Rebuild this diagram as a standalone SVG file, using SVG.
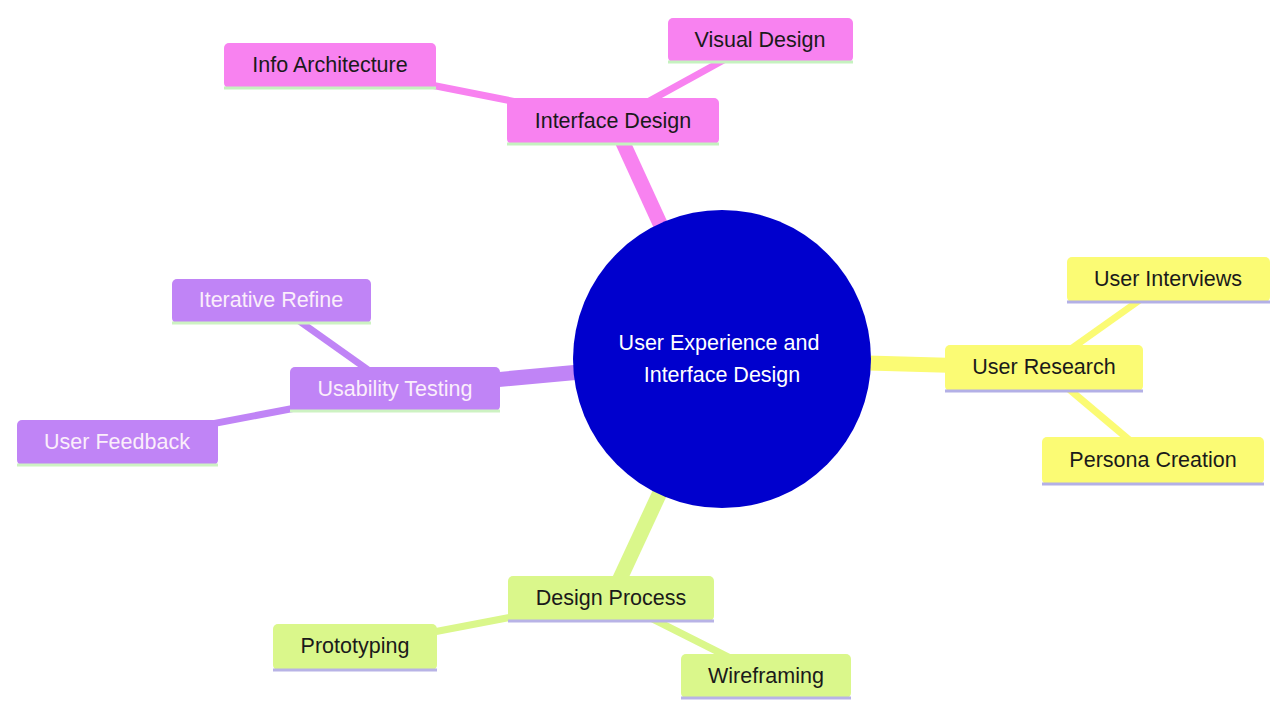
<svg xmlns="http://www.w3.org/2000/svg" width="1271" height="702" viewBox="0 0 1271 702">
<style>
text{font-family:"Liberation Sans",Arial,sans-serif;font-size:21.5px;text-anchor:middle;dominant-baseline:central}
.s0 rect{fill:#f882f0}.s0 .bl{stroke:#c5f2bf}.s0 text{fill:#1a1a1a}
.s1 rect{fill:#fbfb74}.s1 .bl{stroke:#b3b0e6}.s1 text{fill:#1a1a1a}
.s2 rect{fill:#c084f6}.s2 .bl{stroke:#cdf2c2}.s2 text{fill:#fbeefb}
.s3 rect{fill:#daf78b}.s3 .bl{stroke:#b8b3e6}.s3 text{fill:#1a1a1a}
.bl{stroke-width:3;fill:none}
.e0{stroke:#f882f0}.e1{stroke:#fbfb74}.e2{stroke:#c084f6}.e3{stroke:#daf78b}
.thick{stroke-width:15}.thin{stroke-width:7}
</style>
<rect width="1271" height="702" fill="#ffffff"/>
<g id="connectors" fill="none" stroke-linecap="butt">
<line class="e0 thick" x1="722" y1="359" x2="613" y2="121"/>
<line class="e1 thick" x1="722" y1="359" x2="1044" y2="368"/>
<line class="e2 thick" x1="722" y1="359" x2="395" y2="389"/>
<line class="e3 thick" x1="722" y1="359" x2="611" y2="598"/>
<line class="e0 thin" x1="613" y1="121" x2="330" y2="65"/>
<line class="e0 thin" x1="613" y1="121" x2="760" y2="40"/>
<line class="e1 thin" x1="1044" y1="368" x2="1168" y2="280"/>
<line class="e1 thin" x1="1044" y1="368" x2="1153" y2="460"/>
<line class="e2 thin" x1="395" y1="389" x2="271" y2="301"/>
<line class="e2 thin" x1="395" y1="389" x2="117" y2="442"/>
<line class="e3 thin" x1="611" y1="598" x2="355" y2="647"/>
<line class="e3 thin" x1="611" y1="598" x2="766" y2="676"/>
</g>
<g id="root">
<circle cx="722" cy="359" r="149" fill="#0000cd"/>
<text x="719" y="343" fill="#ffffff">User Experience and</text>
<text x="722" y="375" fill="#ffffff">Interface Design</text>
</g>
<g id="interface-design" class="s0">
<rect x="507" y="98" width="212" height="46" rx="5"/>
<line class="bl" x1="507" y1="144" x2="719" y2="144"/>
<text x="613" y="121">Interface Design</text>
</g>
<g id="info-architecture" class="s0">
<rect x="224" y="43" width="212" height="45" rx="5"/>
<line class="bl" x1="224" y1="88" x2="436" y2="88"/>
<text x="330" y="65">Info Architecture</text>
</g>
<g id="visual-design" class="s0">
<rect x="668" y="18" width="185" height="44" rx="5"/>
<line class="bl" x1="668" y1="62" x2="853" y2="62"/>
<text x="760" y="40">Visual Design</text>
</g>
<g id="user-research" class="s1">
<rect x="945" y="345" width="198" height="46" rx="5"/>
<line class="bl" x1="945" y1="391" x2="1143" y2="391"/>
<text x="1044" y="367">User Research</text>
</g>
<g id="user-interviews" class="s1">
<rect x="1067" y="257" width="203" height="45" rx="5"/>
<line class="bl" x1="1067" y1="302" x2="1270" y2="302"/>
<text x="1168" y="279">User Interviews</text>
</g>
<g id="persona-creation" class="s1">
<rect x="1042" y="437" width="222" height="47" rx="5"/>
<line class="bl" x1="1042" y1="484" x2="1264" y2="484"/>
<text x="1153" y="460">Persona Creation</text>
</g>
<g id="usability-testing" class="s2">
<rect x="290" y="367" width="210" height="44" rx="5"/>
<line class="bl" x1="290" y1="411" x2="500" y2="411"/>
<text x="395" y="389">Usability Testing</text>
</g>
<g id="iterative-refine" class="s2">
<rect x="172" y="279" width="199" height="44" rx="5"/>
<line class="bl" x1="172" y1="323" x2="371" y2="323"/>
<text x="271" y="300">Iterative Refine</text>
</g>
<g id="user-feedback" class="s2">
<rect x="17" y="420" width="201" height="45" rx="5"/>
<line class="bl" x1="17" y1="465" x2="218" y2="465"/>
<text x="117" y="442">User Feedback</text>
</g>
<g id="design-process" class="s3">
<rect x="508" y="576" width="206" height="45" rx="5"/>
<line class="bl" x1="508" y1="621" x2="714" y2="621"/>
<text x="611" y="598">Design Process</text>
</g>
<g id="prototyping" class="s3">
<rect x="273" y="624" width="164" height="46" rx="5"/>
<line class="bl" x1="273" y1="670" x2="437" y2="670"/>
<text x="355" y="646">Prototyping</text>
</g>
<g id="wireframing" class="s3">
<rect x="681" y="654" width="170" height="44" rx="5"/>
<line class="bl" x1="681" y1="698" x2="851" y2="698"/>
<text x="766" y="676">Wireframing</text>
</g>
</svg>
